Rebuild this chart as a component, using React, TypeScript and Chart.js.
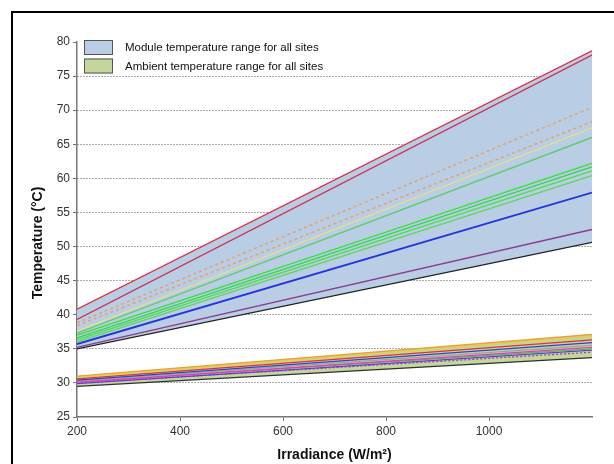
import { useEffect, useRef } from "react";
import { Chart, registerables } from "chart.js";

Chart.register(...registerables);

// Irradiance (W/m²) at which each line is evaluated
const irradiance = [200, 1200];

// Module temperature lines (°C) at 200 and 1200 W/m²
const moduleRedA = [40.8, 78.7];
const moduleRedB = [39.3, 78.1];
const moduleOrangeA = [38.8, 70.4];
const moduleOrangeB = [38.4, 68.3];
const moduleYellow = [37.6, 67.4];
const moduleLightGreen = [37.3, 66.0];
const moduleGreenA = [37.0, 62.2];
const moduleGreenB = [36.6, 61.7];
const moduleGreenC = [36.3, 61.1];
const moduleGreenD = [36.0, 60.4];
const moduleBlue = [35.7, 57.9];
const modulePurple = [35.2, 52.5];
const moduleBlack = [35.0, 50.6];

// Ambient temperature lines (°C) at 200 and 1200 W/m²
const ambientOrange = [31.0, 37.1];
const ambientYellow = [30.8, 36.8];
const ambientRed = [30.6, 36.3];
const ambientBlue = [30.4, 35.9];
const ambientGrey = [30.3, 35.5];
const ambientMagenta = [30.1, 35.2];
const ambientGreen = [30.2, 35.0];
const ambientViolet = [29.9, 34.8];
const ambientPurple = [30.0, 34.5];
const ambientBlack = [29.5, 33.7];

const yTicks = [25, 30, 35, 40, 45, 50, 55, 60, 65, 70, 75, 80];
const xTicks = [200, 400, 600, 800, 1000];

const legendLabels = [
  "Module temperature range for all sites",
  "Ambient temperature range for all sites",
];
const legendColors = ["#b9cde5", "#c3d69b"];
const yTitle = "Temperature (°C)";
const xTitle = "Irradiance (W/m²)";

const FONT = "'Liberation Sans', Arial, sans-serif";

function pts(v: number[]) {
  return irradiance.map((x, i) => ({ x, y: v[i] }));
}

function line(v: number[], color: string, dash: number[] = [], width = 1.3) {
  return {
    data: pts(v),
    borderColor: color,
    borderWidth: width,
    borderDash: dash,
    pointRadius: 0,
    fill: false,
  };
}

const legendPlugin = {
  id: "customLegend",
  afterDraw(chart: any) {
    const ctx = chart.ctx;
    const left = chart.chartArea.left + 7;
    const top = chart.chartArea.top - 2;
    ctx.save();
    legendLabels.forEach((label, i) => {
      const y = top + i * 18.5;
      ctx.fillStyle = legendColors[i];
      ctx.fillRect(left, y, 29, 15);
      ctx.strokeStyle = "#555";
      ctx.lineWidth = 1;
      ctx.strokeRect(left + 0.5, y + 0.5, 28, 14);
      ctx.fillStyle = "#111";
      ctx.font = `11.5px ${FONT}`;
      ctx.textBaseline = "middle";
      ctx.textAlign = "left";
      ctx.fillText(label, left + 41, y + 8);
    });
    // y-axis title
    ctx.translate(38, 243);
    ctx.rotate(-Math.PI / 2);
    ctx.font = `bold 14px ${FONT}`;
    ctx.fillStyle = "#111";
    ctx.textAlign = "center";
    ctx.textBaseline = "middle";
    ctx.fillText(yTitle, 0, 0);
    ctx.restore();
  },
};

export default function App() {
  const ref = useRef<HTMLCanvasElement>(null);

  useEffect(() => {
    if (!ref.current) return;
    const lines = [
      line(moduleRedA, "#e02a3a"),
      line(moduleRedB, "#c8304a"),
      line(moduleOrangeA, "#e8a06a", [3, 3], 1.5),
      line(moduleOrangeB, "#e8a06a", [3, 3], 1.5),
      line(moduleYellow, "#e6e08a"),
      line(moduleLightGreen, "#5ccc6a"),
      line(moduleGreenA, "#33e033"),
      line(moduleGreenB, "#2cd84a"),
      line(moduleGreenC, "#44e23c"),
      line(moduleGreenD, "#58d858"),
      line(moduleBlue, "#2233e0", [], 1.8),
      line(modulePurple, "#8a3c8c"),
      line(moduleBlack, "#222222"),
      line(ambientOrange, "#f0a030"),
      line(ambientYellow, "#e0d050"),
      line(ambientRed, "#e03040"),
      line(ambientBlue, "#3040d0"),
      line(ambientGrey, "#a0a0a0"),
      line(ambientMagenta, "#e040c0"),
      line(ambientGreen, "#50c050"),
      line(ambientViolet, "#6a3ad0"),
      line(ambientPurple, "#9040c0", [2, 2]),
      line(ambientBlack, "#303030"),
    ];
    const moduleBottomIndex = 12;
    const ambientBottomIndex = lines.length - 1;
    const datasets: any[] = [
      ...lines,
      {
        data: pts(moduleRedA),
        borderWidth: 0,
        pointRadius: 0,
        backgroundColor: legendColors[0],
        fill: moduleBottomIndex,
      },
      {
        data: pts(ambientOrange),
        borderWidth: 0,
        pointRadius: 0,
        backgroundColor: legendColors[1],
        fill: ambientBottomIndex,
      },
    ];

    const chart = new Chart(ref.current, {
      type: "line",
      data: { datasets },
      options: {
        animation: false,
        responsive: false,
        devicePixelRatio: 1,
        layout: { padding: { left: 26, top: 42, right: 22, bottom: 0 } },
        plugins: {
          legend: { display: false },
          tooltip: { enabled: false },
        },
        scales: {
          x: {
            type: "linear",
            min: 200,
            max: 1200,
            afterBuildTicks: (s: any) => {
              s.ticks = xTicks.map((v) => ({ value: v }));
            },
            afterFit: (s: any) => {
              s.height = 47;
            },
            ticks: {
              color: "#333",
              font: { family: FONT, size: 12 },
              padding: 3,
              maxRotation: 0,
              callback: (v: any) => String(v),
            },
            grid: {
              drawOnChartArea: false,
              drawTicks: true,
              tickLength: 4,
              tickColor: "#777",
            },
            border: { color: "#777", width: 1.5 },
            title: {
              display: true,
              text: xTitle,
              color: "#111",
              font: { family: FONT, size: 14, weight: "bold" },
              padding: { top: 1, bottom: 0 },
            },
          },
          y: {
            type: "linear",
            min: 25,
            max: 80,
            afterBuildTicks: (s: any) => {
              s.ticks = yTicks.map((v) => ({ value: v }));
            },
            afterFit: (s: any) => {
              s.width = 51;
            },
            ticks: {
              color: "#333",
              font: { family: FONT, size: 12 },
              padding: 3,
              callback: (v: any) => String(v),
            },
            grid: {
              color: (c: any) =>
                c.tick && (c.tick.value === 80 || c.tick.value === 25)
                  ? "rgba(0,0,0,0)"
                  : "#555",
              lineWidth: 1,
              tickLength: 4,
              tickColor: "#777",
              tickBorderDash: [],
            },
            border: { color: "#777", width: 1.5, dash: [1, 2] },
            title: { display: false },
          },
        },
      },
      plugins: [legendPlugin],
    });
    return () => chart.destroy();
  }, []);

  return (
    <div
      style={{
        position: "absolute",
        left: 0,
        top: 0,
        width: 614,
        height: 464,
        background: "#fff",
        overflow: "hidden",
      }}
    >
      <canvas
        ref={ref}
        width={614}
        height={464}
        style={{ position: "absolute", left: 0, top: 0, width: 614, height: 464 }}
      />
      <div
        style={{
          position: "absolute",
          left: 11,
          top: 11,
          width: 640,
          height: 500,
          borderLeft: "2px solid #000",
          borderTop: "2px solid #000",
          pointerEvents: "none",
        }}
      />
    </div>
  );
}
